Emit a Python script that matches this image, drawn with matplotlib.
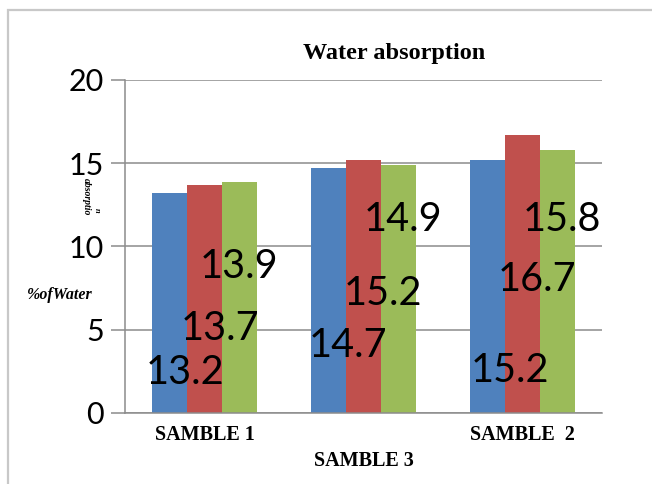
import matplotlib
matplotlib.use('Agg')
import matplotlib.pyplot as plt
import numpy as np
from matplotlib.patches import Rectangle

# data
groups = ['SAMBLE 1', '', 'SAMBLE  2']
series1 = [13.2, 14.7, 15.2]   # blue
series2 = [13.7, 15.2, 16.7]   # red
series3 = [13.9, 14.9, 15.8]   # green
xlabel_text = 'SAMBLE 3'

# where the value labels sit (they float inside the bars in the original)
lab_dx = [[-0.12, -0.10, -0.08], [0.10, 0.12, 0.09], [0.22, 0.25, 0.25]]
lab_y = [[2.46, 4.08, 2.58], [5.1, 7.2, 8.0], [8.77, 11.6, 11.6]]

colors = ['#4F81BD', '#C0504D', '#9BBB59']

fig = plt.figure(figsize=(6.52, 4.84), dpi=100)
ax = fig.add_axes([125/652, 1-413/484, 477/652, 333/484])

x = np.arange(len(groups))
w = 0.22
for i, s in enumerate([series1, series2, series3]):
    ax.bar(x + (i-1)*w, s, width=w, color=colors[i], zorder=2)
    for j in range(len(s)):
        ax.text(x[j] + lab_dx[i][j], lab_y[i][j], str(s[j]), ha='center', va='center',
                fontsize=28.5, family='Lato', color='black', zorder=3)

ax.set_xlim(-0.5, 2.5)
ax.set_ylim(0, 20)
ax.set_yticks([0, 5, 10, 15, 20])
ax.yaxis.grid(True, color='#8c8c8c', lw=1.1, zorder=0)
ax.set_axisbelow(True)
for sp in ['top', 'right']:
    ax.spines[sp].set_visible(False)
ax.spines['left'].set_color('#8c8c8c')
ax.spines['bottom'].set_color('#8c8c8c')
ax.spines['left'].set_linewidth(1.1)
ax.spines['bottom'].set_linewidth(1.1)
ax.tick_params(axis='y', length=10, width=1.1, color='#8c8c8c', labelsize=22, pad=5)
for t in ax.get_yticklabels():
    t.set_family('Lato')
ax.set_xticks(x)
ax.set_xticklabels(groups, family='Liberation Serif', fontweight='bold', fontsize=14.5)
ax.tick_params(axis='x', length=0, pad=9)
ax.set_xlabel(xlabel_text, family='Liberation Serif', fontweight='bold', fontsize=14.5, labelpad=4)

fig.text(394/652, 1-54/484, 'Water absorption', ha='center', va='center',
         family='Liberation Serif', fontweight='bold', fontsize=17.5)
fig.text(60/652, 1-295/484, '%ofWater', ha='center', va='center',
         family='Liberation Serif', fontweight='bold', style='italic', fontsize=11.5)
fig.text(86/652, 1-197/484, 'absorptio', ha='center', va='center', rotation=-90,
         family='Liberation Serif', fontweight='bold', style='italic', fontsize=7)
fig.text(97/652, 1-210/484, 'n', ha='center', va='center', rotation=-90,
         family='Liberation Serif', fontweight='bold', style='italic', fontsize=6)

# outer chart frame
fig.patches.append(Rectangle((8/652, -0.1), 1.2, 1.1 - 10/484, transform=fig.transFigure,
                             fill=False, edgecolor='#c8c8c8', lw=1.6))

fig.savefig('out.png', dpi=100)
